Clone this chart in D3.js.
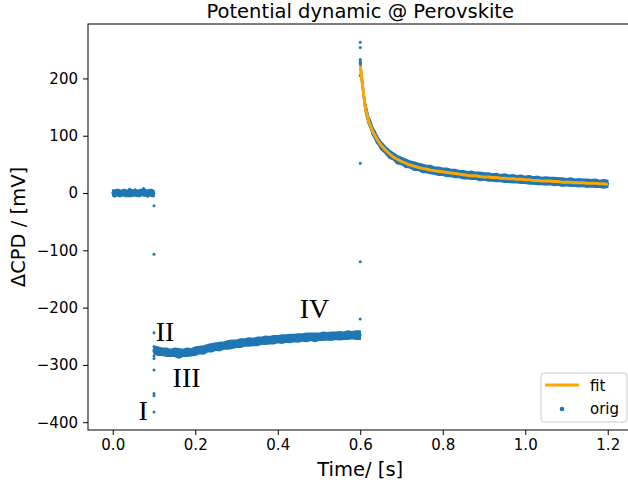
<!DOCTYPE html>
<html>
<head>
<meta charset="utf-8">
<script src="https://cdn.jsdelivr.net/npm/d3@7"></script>
<style>
  html, body { margin: 0; padding: 0; background: #fff; }
  svg { display: block; }
  text { font-family: "DejaVu Sans", sans-serif; fill: #000; }
</style>
</head>
<body>
<svg id="chart" width="628" height="486"></svg>
<script>
// ---- data -------------------------------------------------------------
const blue = "#1f77b4";
const orange = "#ffa500";

// Stage 1: dark baseline, 0 - 0.1 s (sampled every 5 ms)
const baseStart = 0.0, baseStep = 0.005;
const baseCenter = [0, -1, 1, 0, -1, 1, 0, -1, 1, 0, 0, 1, -1, 0, 1, 2, 0, -1, 1, 0, -1];
const baseSpread = [5, 6, 5, 6, 5, 5, 6, 5, 7, 6, 5, 6, 5, 6, 5, 7, 5, 6, 5, 6, 5];

// Stage 2: illumination, 0.1 - 0.6 s (sampled every 10 ms)
const illumStart = 0.10, illumStep = 0.01;
const illumCenter = [-274, -276, -277, -278, -279, -278, -280, -279, -278, -278,
                     -276, -274, -274, -271, -270, -268, -268, -266, -265, -264,
                     -263, -262, -261, -260, -260, -259, -258, -257, -257, -256,
                     -255, -255, -254, -254, -253, -253, -252, -252, -251, -252,
                     -251, -250, -250, -250, -249, -249, -249, -248, -248, -248, -248];
const illumSpread = [6, 7, 6, 7, 6, 7, 8, 6, 7, 6,
                     7, 6, 7, 6, 7, 6, 7, 6, 7, 7,
                     6, 7, 6, 7, 6, 7, 6, 7, 6, 7,
                     6, 7, 6, 7, 6, 7, 6, 7, 6, 7,
                     6, 7, 6, 7, 6, 7, 6, 7, 6, 7, 7];

// Stage 3: dark relaxation, 0.6 - 1.2 s
const decayTime = [0.600, 0.603, 0.606, 0.609, 0.612, 0.616, 0.620, 0.625, 0.630, 0.635,
                   0.640, 0.645, 0.650, 0.66, 0.67, 0.68, 0.69, 0.70, 0.71, 0.72,
                   0.73, 0.74, 0.75, 0.76, 0.77, 0.78, 0.79, 0.80, 0.81, 0.82,
                   0.83, 0.84, 0.85, 0.86, 0.87, 0.88, 0.89, 0.90, 0.91, 0.92,
                   0.93, 0.94, 0.95, 0.96, 0.97, 0.98, 0.99, 1.00, 1.01, 1.02,
                   1.03, 1.04, 1.05, 1.06, 1.07, 1.08, 1.09, 1.10, 1.11, 1.12,
                   1.13, 1.14, 1.15, 1.16, 1.17, 1.18, 1.19, 1.20];
const decayCenter = [225, 204, 187, 167, 151, 139, 127, 119, 108, 102,
                     94, 89, 83, 76, 68, 64, 58, 56, 52, 50,
                     47, 46, 43, 42, 41, 39, 38, 37, 36, 35,
                     34, 33, 32, 31, 31, 30, 29, 29, 28, 27,
                     27, 26, 26, 25, 25, 24, 24, 23, 23, 22,
                     22, 21, 21, 21, 20, 20, 19, 19, 19, 18,
                     18, 18, 17, 17, 17, 16, 16, 16];
const decaySpread = [9, 9, 8, 8, 8, 8, 7, 7, 7, 7,
                     7, 6, 7, 6, 7, 6, 7, 6, 7, 6,
                     7, 6, 7, 6, 7, 6, 7, 6, 7, 6,
                     7, 6, 7, 6, 7, 6, 7, 6, 7, 6,
                     7, 6, 7, 6, 7, 6, 7, 6, 7, 6,
                     7, 6, 7, 6, 7, 6, 7, 6, 7, 6,
                     7, 6, 7, 6, 7, 6, 7, 6];
const fitValue = [222, 203, 185, 167, 152, 138, 127, 117, 108, 101,
                  95, 89, 84, 76, 69, 63, 59, 55, 52, 49,
                  47, 45, 43, 42, 40, 39, 38, 37, 36, 35,
                  34, 33, 32, 31, 30, 30, 29, 28, 28, 27,
                  27, 26, 26, 25, 25, 24, 24, 23, 23, 22,
                  22, 21, 21, 21, 20, 20, 19, 19, 19, 18,
                  18, 18, 17, 17, 17, 16, 16, 15];

// Isolated samples at the switching instants
const outlierTime = [0.1, 0.1, 0.1, 0.1, 0.1, 0.1, 0.1, 0.1, 0.1, 0.1, 0.1,
                     0.6, 0.6, 0.6, 0.6, 0.6, 0.6, 0.6, 0.6, 0.6];
const outlierValue = [-22, -107, -244, -309, -350, -354, -382, -268, -276, -284, -289,
                      263, 254, 233, 229, 226, 205, 52, -120, -220];

const xTicks = [0.0, 0.2, 0.4, 0.6, 0.8, 1.0, 1.2];
const yTicks = [-400, -300, -200, -100, 0, 100, 200];

// Stage annotations
const stageLabels = ["I", "II", "III", "IV"];
const stageTime = [0.074, 0.127, 0.179, 0.489];
const stageValue = [-396, -258, -338, -218];

// ---- layout -----------------------------------------------------------
const svg = d3.select("#chart");
const plot = { left: 88, top: 24, bottom: 430 };

const x = d3.scaleLinear().domain([-0.06, 1.26]).range([plot.left, plot.left + 1.32 * 412.5]);
const y = d3.scaleLinear().domain([-413.6, 295]).range([plot.bottom, plot.top]);
const right = x.range()[1];

function bandRows(times, center, spread) {
  return times.map((t, i) => ({ t, lo: center[i] - spread[i], hi: center[i] + spread[i] }));
}
const baseRows = bandRows(baseCenter.map((_, i) => baseStart + i * baseStep), baseCenter, baseSpread);
const illumRows = bandRows(illumCenter.map((_, i) => illumStart + i * illumStep), illumCenter, illumSpread);
const decayRows = bandRows(decayTime, decayCenter, decaySpread);

const band = d3.area()
  .x(d => x(d.t))
  .y0(d => y(d.lo))
  .y1(d => y(d.hi));

const g = svg.append("g");

// dense scatter bands of the measured signal
[baseRows, illumRows, decayRows].forEach(rows => {
  g.append("path")
    .datum(rows)
    .attr("d", band)
    .attr("fill", blue)
    .attr("stroke", blue)
    .attr("stroke-width", 1.6)
    .attr("stroke-linejoin", "round");
});

// points along the band centres
g.selectAll("circle.c")
  .data([...baseRows, ...illumRows, ...decayRows])
  .join("circle")
  .attr("cx", d => x(d.t))
  .attr("cy", d => y((d.lo + d.hi) / 2))
  .attr("r", 1.4)
  .attr("fill", blue);

// isolated samples
g.selectAll("circle.o")
  .data(outlierTime.map((t, i) => ({ t, v: outlierValue[i] })))
  .join("circle")
  .attr("cx", d => x(d.t))
  .attr("cy", d => y(d.v))
  .attr("r", 1.5)
  .attr("fill", blue);

// fitted relaxation curve
g.append("path")
  .datum(decayTime.map((t, i) => ({ t, v: fitValue[i] })))
  .attr("d", d3.line().x(d => x(d.t)).y(d => y(d.v)).curve(d3.curveMonotoneX))
  .attr("fill", "none")
  .attr("stroke", orange)
  .attr("stroke-width", 3)
  .attr("stroke-linejoin", "round");

// stage numerals
g.selectAll("text.stage")
  .data(stageLabels)
  .join("text")
  .attr("x", (d, i) => x(stageTime[i]))
  .attr("y", (d, i) => y(stageValue[i]))
  .attr("text-anchor", "middle")
  .style("font-family", "'Liberation Serif', 'DejaVu Serif', serif")
  .style("font-size", "28px")
  .text(d => d);

// ---- axes -------------------------------------------------------------
const xAxis = d3.axisBottom(x).tickValues(xTicks).tickFormat(d3.format(".1f")).tickSizeOuter(0).tickSize(5).tickPadding(4);
const yAxis = d3.axisLeft(y).tickValues(yTicks).tickFormat(d => d < 0 ? "\u2212" + Math.abs(d) : d).tickSizeOuter(0).tickSize(5).tickPadding(5);

const gx = svg.append("g").attr("transform", `translate(0,${plot.bottom})`).call(xAxis);
const gy = svg.append("g").attr("transform", `translate(${plot.left},0)`).call(yAxis);
[gx, gy].forEach(a => {
  a.select(".domain").remove();
  a.selectAll("line").attr("stroke", "#000").attr("stroke-width", 1);
  a.selectAll("text").style("font-size", "15px").style("font-family", "'DejaVu Sans', sans-serif");
});

// frame
svg.append("rect")
  .attr("x", plot.left).attr("y", plot.top)
  .attr("width", right - plot.left).attr("height", plot.bottom - plot.top)
  .attr("fill", "none").attr("stroke", "#000").attr("stroke-width", 1);

// titles
svg.append("text")
  .attr("x", (plot.left + right) / 2).attr("y", 18)
  .attr("text-anchor", "middle")
  .style("font-size", "19.5px")
  .text("Potential dynamic @ Perovskite");

svg.append("text")
  .attr("x", (plot.left + right) / 2).attr("y", 476)
  .attr("text-anchor", "middle")
  .style("font-size", "19.5px")
  .text("Time/ [s]");

svg.append("text")
  .attr("transform", `translate(25,${(plot.top + plot.bottom) / 2}) rotate(-90)`)
  .attr("text-anchor", "middle")
  .style("font-size", "19.5px")
  .text("\u0394CPD / [mV]");

// ---- legend -----------------------------------------------------------
const lg = svg.append("g");
lg.append("rect")
  .attr("x", 541).attr("y", 373).attr("width", 86).attr("height", 49).attr("rx", 3)
  .attr("fill", "#fff").attr("fill-opacity", 0.8)
  .attr("stroke", "#ccc").attr("stroke-width", 1);
lg.append("line")
  .attr("x1", 545).attr("x2", 579).attr("y1", 385).attr("y2", 385)
  .attr("stroke", orange).attr("stroke-width", 3);
lg.append("circle").attr("cx", 562).attr("cy", 409).attr("r", 2.3).attr("fill", blue);
lg.append("text").attr("x", 590).attr("y", 391).style("font-size", "15px").text("fit");
lg.append("text").attr("x", 590).attr("y", 414).style("font-size", "15px").text("orig");
</script>
</body>
</html>
